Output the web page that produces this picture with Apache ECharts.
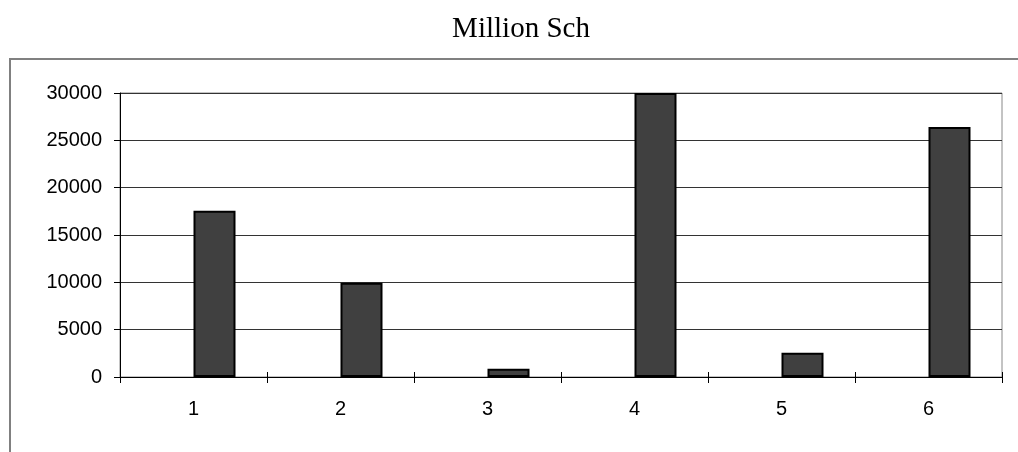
<!DOCTYPE html>
<html>
<head>
<meta charset="utf-8">
<style>
  html, body { margin: 0; padding: 0; background: #fff; }
  #chart { width: 1018px; height: 452px; }
</style>
<script src="https://cdn.jsdelivr.net/npm/echarts@6/dist/echarts.min.js"></script>
</head>
<body>
<div id="chart"></div>
<script>
// Categories along the x axis
const categories = ['1', '2', '3', '4', '5', '6'];
// First series carries no values; it only reserves the left half of each slot
const seriesEmpty = [null, null, null, null, null, null];
// Values in million Sch
const seriesValues = [17550, 9950, 880, 30000, 2550, 26400];
// Value axis ticks
const yMin = 0;
const yMax = 30000;
const yStep = 5000;

const chart = echarts.init(document.getElementById('chart'), null, { renderer: 'canvas' });

const labelFont = { fontFamily: '"Liberation Sans", Arial, sans-serif', fontSize: 20, color: '#000' };

chart.setOption({
  animation: false,
  backgroundColor: '#fff',
  title: {
    text: 'Million Sch',
    left: 516,
    textAlign: 'center',
    top: 10,
    textStyle: {
      fontFamily: '"Liberation Serif", "Times New Roman", serif',
      fontWeight: 'normal',
      fontSize: 29,
      color: '#000'
    }
  },
  graphic: [{
    type: 'rect',
    silent: true,
    z: -10,
    shape: { x: 10, y: 59, width: 1030, height: 420 },
    style: { fill: 'none', stroke: '#808080', lineWidth: 2 }
  }],
  grid: {
    left: 120, right: 16, top: 93, bottom: 75,
    show: true,
    borderColor: '#888',
    borderWidth: 1,
    backgroundColor: 'transparent'
  },
  xAxis: [{
    type: 'category',
    position: 'bottom',
    data: categories,
    boundaryGap: true,
    axisLine: { show: true, lineStyle: { color: '#000', width: 1 } },
    axisTick: { show: true, alignWithLabel: false, length: 6, lineStyle: { color: '#000' } },
    axisLabel: Object.assign({ margin: 22 }, labelFont),
    splitLine: { show: false }
  }, {
    type: 'category',
    position: 'bottom',
    data: categories,
    boundaryGap: true,
    axisLine: { show: false },
    axisTick: { show: true, inside: true, length: 5, lineStyle: { color: '#000' } },
    axisLabel: { show: false },
    splitLine: { show: false }
  }],
  yAxis: {
    type: 'value',
    min: yMin,
    max: yMax,
    interval: yStep,
    axisLine: { show: true, lineStyle: { color: '#000', width: 1 } },
    axisTick: { show: true, length: 6, lineStyle: { color: '#000' } },
    axisLabel: Object.assign({ margin: 18, formatter: function (v) { return String(v); } }, labelFont),
    splitLine: { show: true, lineStyle: { color: '#333', width: 1 } }
  },
  series: [{
    type: 'bar',
    name: 'empty',
    xAxisIndex: 0,
    data: seriesEmpty,
    barWidth: 42,
    barGap: '0%'
  }, {
    type: 'bar',
    name: 'Million Sch',
    xAxisIndex: 0,
    data: seriesValues,
    barWidth: 42,
    barGap: '0%',
    itemStyle: { color: '#404040', borderColor: '#000', borderWidth: 2 }
  }]
});
</script>
</body>
</html>
